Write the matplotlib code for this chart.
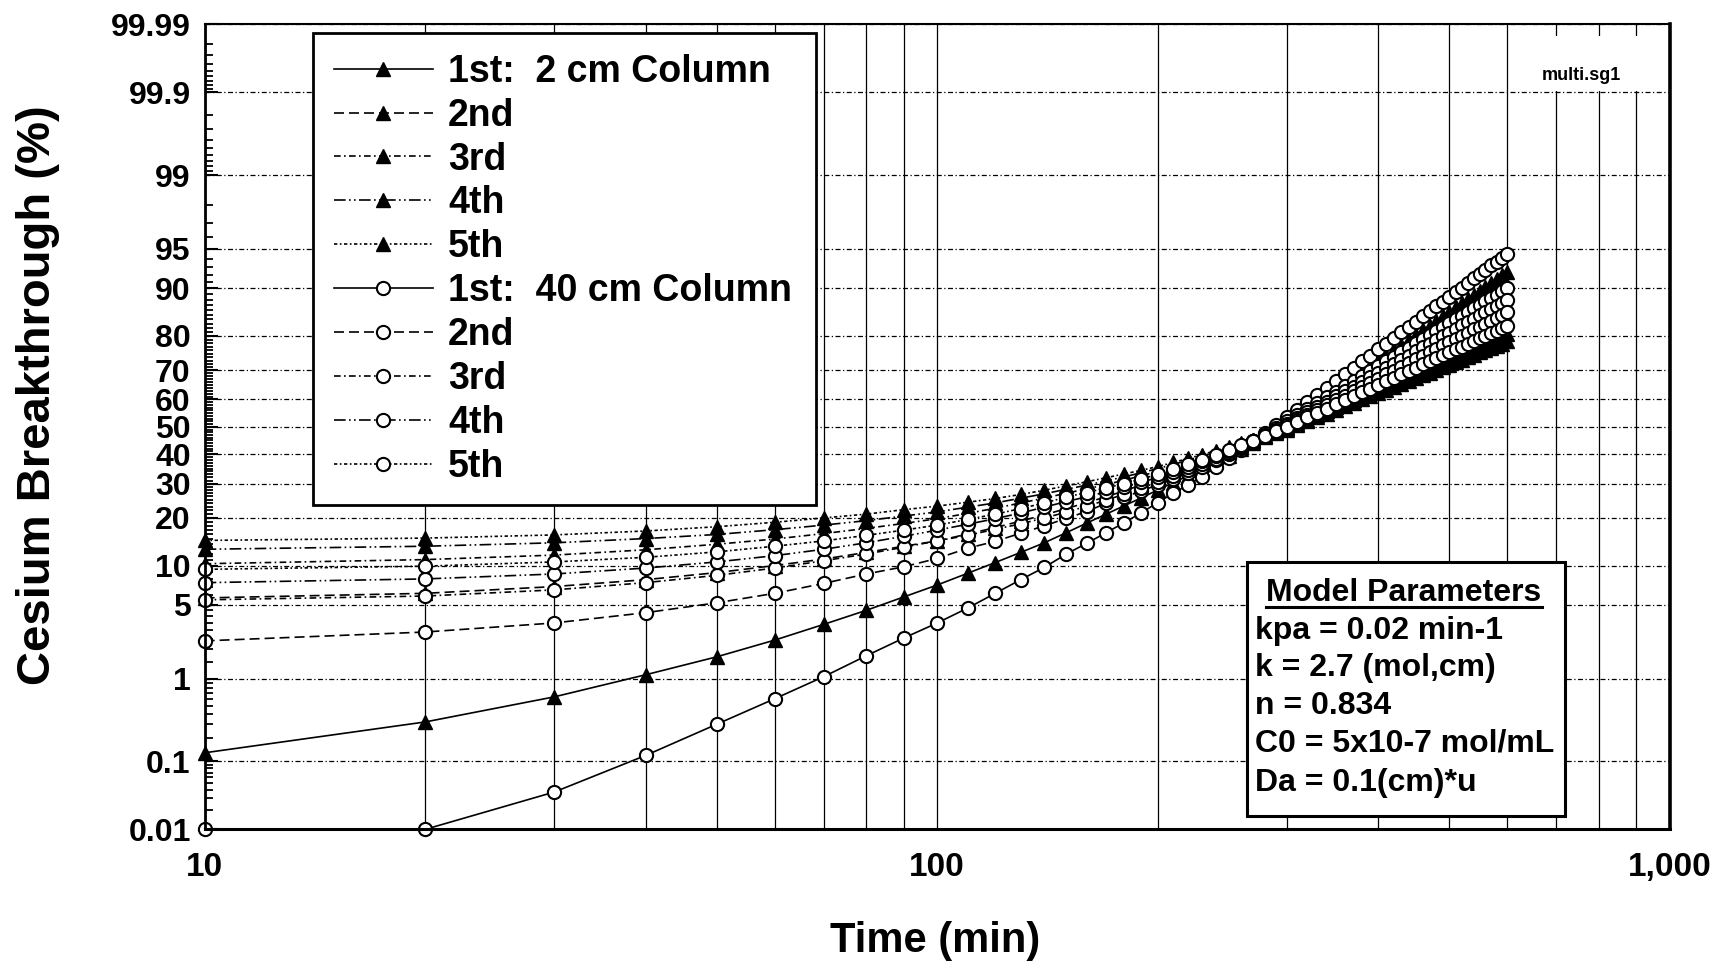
import math
import numpy as np
import matplotlib
matplotlib.use("Agg")
import matplotlib.pyplot as plt
from matplotlib.patches import Rectangle
from matplotlib.lines import Line2D
from matplotlib.ticker import FixedLocator, NullFormatter

plt.rcParams['font.family'] = ['Liberation Sans', 'DejaVu Sans']
plt.rcParams['font.weight'] = 'bold'

# ---------------- data ----------------
time_min = [10, 20, 30, 40, 50, 60, 70, 80, 90, 100,
            110, 120, 130, 140, 150, 160, 170, 180, 190, 200,
            210, 220, 230, 240, 250, 260, 270, 280, 290, 300,
            310, 320, 330, 340, 350, 360, 370, 380, 390, 400,
            410, 420, 430, 440, 450, 460, 470, 480, 490, 500,
            510, 520, 530, 540, 550, 560, 570, 580, 590, 600]

# 2 cm column runs (filled triangles)
col2_run1 = [0.13, 0.32, 0.63, 1.1, 1.68, 2.44, 3.4, 4.5, 5.8, 7.2,
             8.8, 10.5, 12.3, 14.2, 16.4, 18.7, 21.0, 23.3, 25.6, 28.0,
             30.3, 32.6, 34.9, 37.2, 39.5, 41.8, 44.1, 46.4, 48.6, 50.8,
             53.5, 56.0, 58.5, 60.8, 63.1, 65.2, 67.3, 69.2, 71.1, 72.8,
             74.5, 76.0, 77.5, 78.9, 80.2, 81.4, 82.5, 83.6, 84.6, 85.6,
             86.5, 87.4, 88.1, 88.9, 89.6, 90.2, 90.8, 91.4, 91.9, 92.4]
col2_run2 = [5.7, 6.2, 7.0, 7.9, 8.9, 10.0, 11.1, 12.3, 13.5, 14.6,
             16.1, 17.6, 19.2, 20.8, 22.5, 24.2, 25.9, 27.7, 29.6, 31.5,
             33.3, 35.2, 37.1, 39.0, 41.0, 42.9, 44.7, 46.7, 48.6, 50.5,
             52.6, 54.6, 56.6, 58.5, 60.3, 62.0, 63.6, 65.3, 66.8, 68.3,
             69.6, 71.0, 72.3, 73.5, 74.7, 75.8, 76.8, 77.9, 78.8, 79.8,
             80.6, 81.5, 82.3, 83.1, 83.8, 84.5, 85.2, 85.8, 86.4, 87.0]
col2_run3 = [10.3, 11.0, 11.8, 12.8, 13.9, 15.0, 16.2, 17.4, 18.6, 19.8,
             21.2, 22.6, 24.1, 25.5, 27.0, 28.3, 29.7, 31.1, 32.6, 34.0,
             35.6, 37.1, 38.7, 40.4, 42.0, 43.6, 45.2, 46.8, 48.4, 50.0,
             51.9, 53.7, 55.4, 57.1, 58.8, 60.3, 61.8, 63.3, 64.7, 66.0,
             67.3, 68.5, 69.7, 70.9, 72.0, 73.0, 74.0, 75.0, 75.9, 76.8,
             77.7, 78.5, 79.3, 80.0, 80.8, 81.5, 82.1, 82.8, 83.4, 84.0]
col2_run4 = [12.9, 13.5, 14.2, 15.1, 16.0, 17.1, 18.2, 19.3, 20.5, 21.6,
             22.9, 24.1, 25.5, 26.8, 28.2, 29.5, 30.9, 32.2, 33.6, 35.0,
             36.4, 37.9, 39.4, 40.8, 42.3, 43.7, 45.1, 46.6, 48.0, 49.5,
             51.1, 52.7, 54.3, 55.8, 57.2, 58.6, 59.9, 61.2, 62.5, 63.7,
             64.8, 66.0, 67.0, 68.1, 69.1, 70.0, 71.0, 71.9, 72.7, 73.6,
             74.4, 75.2, 75.9, 76.7, 77.4, 78.0, 78.7, 79.3, 79.9, 80.5]
col2_run5 = [14.7, 15.2, 15.9, 16.8, 17.8, 18.9, 20.0, 21.0, 22.2, 23.2,
             24.3, 25.4, 26.6, 27.9, 29.3, 30.6, 31.9, 33.2, 34.4, 35.7,
             37.1, 38.5, 39.9, 41.3, 42.7, 44.0, 45.3, 46.6, 47.8, 49.0,
             50.5, 52.0, 53.5, 54.9, 56.2, 57.5, 58.7, 60.0, 61.1, 62.3,
             63.4, 64.4, 65.5, 66.5, 67.4, 68.3, 69.2, 70.1, 70.9, 71.7,
             72.5, 73.3, 74.0, 74.7, 75.4, 76.0, 76.7, 77.3, 77.9, 78.5]

# 40 cm column runs (open circles)
col40_run1 = [0.01, 0.01, 0.037, 0.12, 0.30, 0.60, 1.05, 1.72, 2.55, 3.5,
              4.7, 6.2, 7.9, 9.7, 12.0, 14.1, 16.4, 18.8, 21.4, 24.2,
              27.0, 29.6, 32.3, 35.5, 38.6, 41.6, 44.6, 47.6, 50.6, 53.5,
              56.3, 59.0, 61.6, 64.1, 66.4, 68.6, 70.7, 72.7, 74.5, 76.3,
              77.9, 79.4, 80.9, 82.2, 83.4, 84.6, 85.7, 86.7, 87.6, 88.5,
              89.3, 90.1, 90.8, 91.5, 92.1, 92.6, 93.2, 93.6, 94.1, 94.5]
col40_run2 = [2.4, 2.9, 3.5, 4.3, 5.2, 6.2, 7.4, 8.7, 9.8, 11.2,
              13.1, 14.5, 16.3, 18.0, 19.9, 21.7, 24.0, 25.8, 27.7, 29.6,
              31.6, 33.6, 35.7, 37.8, 40.0, 42.3, 44.7, 47.1, 49.5, 52.0,
              54.3, 56.5, 58.7, 60.7, 62.7, 64.6, 66.4, 68.1, 69.7, 71.3,
              72.7, 74.1, 75.5, 76.8, 78.0, 79.1, 80.2, 81.2, 82.2, 83.1,
              84.0, 84.8, 85.6, 86.3, 87.0, 87.7, 88.3, 88.9, 89.5, 90.0]
col40_run3 = [5.5, 5.9, 6.6, 7.5, 8.5, 9.6, 10.8, 12.0, 13.3, 14.6,
              15.8, 17.2, 18.5, 20.0, 21.5, 23.2, 24.9, 26.7, 28.6, 30.5,
              32.4, 34.4, 36.4, 38.4, 40.5, 42.6, 44.7, 46.8, 48.9, 51.0,
              53.2, 55.3, 57.3, 59.2, 61.1, 62.8, 64.5, 66.2, 67.7, 69.2,
              70.6, 72.0, 73.3, 74.5, 75.7, 76.9, 77.9, 79.0, 79.9, 80.8,
              81.7, 82.6, 83.4, 84.1, 84.9, 85.5, 86.2, 86.8, 87.4, 88.0]
col40_run4 = [7.5, 8.0, 8.7, 9.6, 10.6, 11.7, 12.9, 14.2, 15.6, 17.0,
              18.4, 19.8, 21.3, 22.9, 24.5, 25.9, 27.4, 28.9, 30.4, 32.0,
              33.8, 35.6, 37.5, 39.4, 41.3, 43.1, 44.9, 46.8, 48.6, 50.5,
              52.5, 54.4, 56.2, 58.0, 59.7, 61.3, 62.9, 64.4, 65.8, 67.2,
              68.6, 69.8, 71.1, 72.2, 73.4, 74.4, 75.5, 76.5, 77.4, 78.3,
              79.2, 80.0, 80.8, 81.6, 82.3, 83.0, 83.7, 84.3, 84.9, 85.5]
col40_run5 = [9.4, 9.9, 10.6, 11.4, 12.4, 13.5, 14.6, 15.8, 17.0, 18.2,
              19.6, 21.0, 22.5, 24.1, 25.8, 27.2, 28.6, 30.0, 31.5, 33.0,
              34.7, 36.4, 38.1, 39.8, 41.6, 43.3, 44.9, 46.6, 48.3, 50.0,
              51.8, 53.5, 55.1, 56.7, 58.2, 59.7, 61.1, 62.5, 63.8, 65.1,
              66.3, 67.5, 68.6, 69.7, 70.8, 71.8, 72.8, 73.7, 74.6, 75.5,
              76.3, 77.1, 77.9, 78.6, 79.3, 80.0, 80.7, 81.3, 81.9, 82.5]

labels_2cm = ["1st:  2 cm Column", "2nd", "3rd", "4th", "5th"]
labels_40cm = ["1st:  40 cm Column", "2nd", "3rd", "4th", "5th"]

y_ticks = [0.01, 0.1, 1, 5, 10, 20, 30, 40, 50, 60, 70, 80, 90, 95, 99, 99.9, 99.99]
y_ticklabels = ["0.01", "0.1", "1", "5", "10", "20", "30", "40", "50", "60",
                "70", "80", "90", "95", "99", "99.9", "99.99"]
x_ticks = [10, 100, 1000]
x_ticklabels = ["10", "100", "1,000"]

params_title = "Model Parameters"
params_lines = ["kpa = 0.02 min-1", "k = 2.7 (mol,cm)", "n = 0.834",
                "C0 = 5x10-7 mol/mL", "Da = 0.1(cm)*u"]

# ---------------- normal probability scale ----------------
_A = [-3.969683028665376e+01, 2.209460984245205e+02, -2.759285104469687e+02,
      1.383577518672690e+02, -3.066479806614716e+01, 2.506628277459239e+00]
_B = [-5.447609879822406e+01, 1.615858368580409e+02, -1.556989798598866e+02,
      6.680131188771972e+01, -1.328068155288572e+01]
_C = [-7.784894002430293e-03, -3.223964580411365e-01, -2.400758277161838e+00,
      -2.549732539343734e+00, 4.374664141464968e+00, 2.938163982698783e+00]
_D = [7.784695709041462e-03, 3.224671290700398e-01, 2.445134137142996e+00,
      3.754408661907416e+00]


def _tail(q):
    return ((((((_C[0] * q + _C[1]) * q + _C[2]) * q + _C[3]) * q + _C[4]) * q + _C[5]) /
            ((((_D[0] * q + _D[1]) * q + _D[2]) * q + _D[3]) * q + 1))


def prob_forward(p):
    arr = np.asarray(p, dtype=float)
    shape = arr.shape
    flat = np.atleast_1d(arr).ravel()
    q = np.clip(flat / 100.0, 1e-12, 1 - 1e-12)
    z = np.empty_like(q)
    plow = 0.02425
    lo = q < plow
    hi = q > 1 - plow
    mid = ~(lo | hi)
    z[lo] = _tail(np.sqrt(-2 * np.log(q[lo])))
    z[hi] = -_tail(np.sqrt(-2 * np.log(1 - q[hi])))
    qm = q[mid] - 0.5
    r = qm * qm
    z[mid] = ((((((_A[0] * r + _A[1]) * r + _A[2]) * r + _A[3]) * r + _A[4]) * r + _A[5]) * qm /
              (((((_B[0] * r + _B[1]) * r + _B[2]) * r + _B[3]) * r + _B[4]) * r + 1))
    z[np.isnan(flat)] = np.nan
    return z.reshape(shape)


_verf = np.vectorize(math.erf, otypes=[float])


def prob_inverse(z):
    arr = np.asarray(z, dtype=float)
    return 50.0 * (1.0 + _verf(arr / math.sqrt(2.0)))


# ---------------- figure ----------------
fig = plt.figure(figsize=(17.34, 9.68), dpi=100)
ax = fig.add_axes([0.118, 0.1432, 0.845, 0.8317])
ax.set_xscale('log')
ax.set_yscale('function', functions=(prob_forward, prob_inverse))
ax.set_xlim(10, 1000)
ax.set_ylim(0.01, 99.99)
ax.set_axisbelow(True)

styles = ['-', (0, (6, 3)), (0, (4, 2, 1, 2)), (0, (7, 2, 1, 2, 1, 2)), (0, (2, 1.5, 1, 1.5))]
series_2cm = [col2_run1, col2_run2, col2_run3, col2_run4, col2_run5]
series_40cm = [col40_run1, col40_run2, col40_run3, col40_run4, col40_run5]

handles = []
for vals, ls, lab in zip(series_2cm, styles, labels_2cm):
    assert len(vals) == len(time_min)
    h, = ax.plot(time_min, vals, linestyle=ls, color='black', lw=1.2,
                 marker='^', markersize=10, markerfacecolor='black',
                 markeredgecolor='black', clip_on=False, zorder=3, label=lab)
    handles.append(h)
for vals, ls, lab in zip(series_40cm, styles, labels_40cm):
    assert len(vals) == len(time_min)
    h, = ax.plot(time_min, vals, linestyle=ls, color='black', lw=1.2,
                 marker='o', markersize=9.5, markerfacecolor='white',
                 markeredgecolor='black', markeredgewidth=1.5,
                 clip_on=False, zorder=3, label=lab)
    handles.append(h)

# ticks
ax.yaxis.set_major_locator(FixedLocator(y_ticks))
ax.set_yticklabels(y_ticklabels)
minor_y = ([0.02, 0.03, 0.04, 0.05, 0.06, 0.07, 0.08, 0.09,
            0.2, 0.3, 0.4, 0.5, 0.6, 0.7, 0.8, 0.9,
            1.5, 2, 2.5, 3, 3.5, 4, 4.5, 6, 7, 8, 9]
           + [v for v in range(11, 90) if v % 10 != 0]
           + [91, 92, 93, 94, 96, 97, 98]
           + [99.1, 99.2, 99.3, 99.4, 99.5, 99.6, 99.7, 99.8,
              99.91, 99.92, 99.93, 99.94, 99.95, 99.96, 99.97, 99.98])
ax.yaxis.set_minor_locator(FixedLocator(minor_y))
ax.yaxis.set_minor_formatter(NullFormatter())
ax.xaxis.set_major_locator(FixedLocator(x_ticks))
ax.set_xticklabels(x_ticklabels)
ax.xaxis.set_minor_locator(FixedLocator([20, 30, 40, 50, 60, 70, 80, 90,
                                         200, 300, 400, 500, 600, 700, 800, 900]))
ax.xaxis.set_minor_formatter(NullFormatter())

ax.tick_params(axis='y', which='major', direction='in', length=9, width=1.5,
               labelsize=23, pad=10)
ax.tick_params(axis='y', which='minor', direction='in', length=6, width=1.3)
ax.tick_params(axis='x', which='both', direction='in', length=0, labelsize=24, pad=16)
for lab in ax.get_xticklabels() + ax.get_yticklabels():
    lab.set_fontweight('bold')

# grids
ax.grid(True, which='major', axis='y', color='black', lw=0.9,
        linestyle=(0, (4, 2, 1, 2)))
ax.grid(True, which='both', axis='x', color='black', lw=0.9, linestyle='-')

for side, lw in (('left', 2.0), ('bottom', 2.2), ('top', 1.5), ('right', 2.6)):
    ax.spines[side].set_linewidth(lw)
    ax.spines[side].set_zorder(4)

# labels
ax.set_xlabel("Time (min)", fontsize=30, fontweight='bold')
ax.xaxis.set_label_coords(0.4988, -0.114)
ax.set_ylabel("Cesium Breakthrough (%)", fontsize=34, fontweight='bold')
ax.yaxis.set_label_coords(-0.099, 0.54)

# legend
leg = ax.legend(handles=handles, loc='upper left',
                bbox_to_anchor=(0.074, 0.4091, 0.3432, 0.5799), mode='expand',
                borderaxespad=0, fancybox=False, framealpha=1, edgecolor='black',
                prop={'weight': 'bold', 'size': 27}, handlelength=2.65,
                handletextpad=0.4, borderpad=0.55, labelspacing=0.21)
leg.get_frame().set_linewidth(2.0)
leg.set_zorder(10)

# white patch hiding grid behind the file tag
ax.add_patch(Rectangle((650, 99.905), 345, 0.08, facecolor='white',
                       edgecolor='none', zorder=1.5))
ax.text(0.9393, 0.937, "multi.sg1", transform=ax.transAxes, fontsize=13,
        fontweight='bold', ha='center', va='center', zorder=6)

# model parameters box
ax.add_patch(Rectangle((0.7113, 0.0166), 0.217, 0.3155, transform=ax.transAxes,
                       facecolor='white', edgecolor='black', lw=2.2, zorder=8,
                       clip_on=False))
ttl = ax.text(0.8185, 0.2936, params_title, transform=ax.transAxes, fontsize=23,
              fontweight='bold', ha='center', va='center', zorder=9)
line_y = [0.2458, 0.2004, 0.1538, 0.1072, 0.0576]
for txt, yy in zip(params_lines, line_y):
    ax.text(0.7169, yy, txt, transform=ax.transAxes, fontsize=23,
            fontweight='bold', ha='left', va='center', zorder=9)

fig.canvas.draw()
bb = ttl.get_window_extent(renderer=fig.canvas.get_renderer())
inv = ax.transAxes.inverted()
(x0, y0), (x1, y1) = inv.transform([(bb.x0, bb.y0 + 1), (bb.x1, bb.y0 + 1)])
ax.add_line(Line2D([x0, x1], [y0, y1], transform=ax.transAxes, color='black',
                   lw=2.2, zorder=9))

fig.savefig("out.png", dpi=100)
